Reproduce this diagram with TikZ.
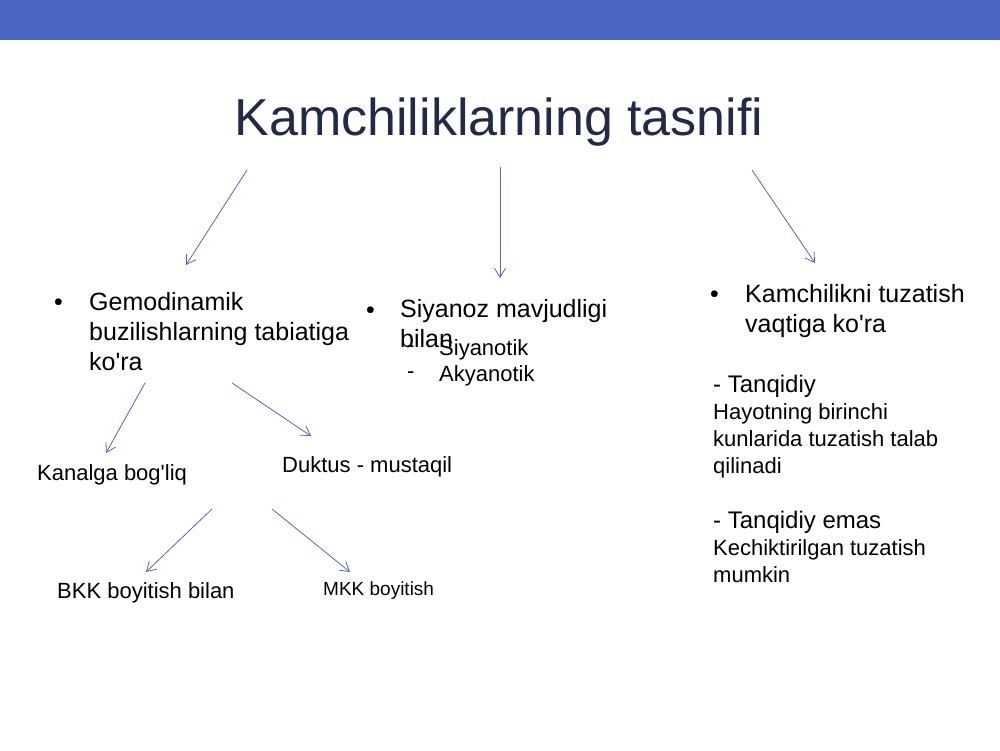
\documentclass[tikz,border=0pt]{standalone}
\usepackage{fontspec}
\setmainfont{Liberation Sans}
\usetikzlibrary{arrows.meta}
\definecolor{bandblue}{HTML}{4C67C3}
\definecolor{titlenavy}{HTML}{222A48}
\definecolor{arrowblue}{HTML}{5464B4}
\newcommand{\apo}{\textquotesingle}
\tikzset{
  big/.style={font=\fontsize{25}{30}\selectfont, inner sep=0pt, anchor=base west, align=left},
  small/.style={font=\fontsize{22}{27}\selectfont, inner sep=0pt, anchor=base west, align=left},
  link/.style={arrowblue, line width=0.8pt, -{Straight Barb[length=9pt,width=11pt]}},
}
\begin{document}
\begin{tikzpicture}[x=1pt,y=-1pt]
    % Page and top band
    \useasboundingbox (0,0) rectangle (1000,750);
    \fill[bandblue] (0,0) rectangle (1000,40);

    % Title
    \node[font=\fontsize{52}{60}\selectfont, titlenavy, inner sep=0pt, anchor=base] (title) at (499,135) {Kamchiliklarning tasnifi};

    % Left branch (multi-line nodes sit on their last line)
    \node[big] (dot1) at (54,310) {•};
    \node[big] (gemo) at (89,370) {Gemodinamik\\buzilishlarning tabiatiga\\ko\apo ra};
    \node[small] (kanal) at (37,480) {Kanalga bog\apo liq};
    \node[small] (duktus) at (282,472) {Duktus - mustaqil};
    \node[small] (bkk) at (57,598) {BKK boyitish bilan};
    \node[font=\fontsize{19}{23}\selectfont, inner sep=0pt, anchor=base west] (mkk) at (323,595) {MKK boyitish};

    % Middle branch
    \node[big] (dot2) at (366,318) {•};
    \node[small] (dash1) at (407,352) {-};
    \node[small] (dash2) at (407,378) {-};
    \node[big] (siyanoz) at (400,347) {Siyanoz mavjudligi\\bilan};
    \node[small] (siyanotik) at (439,355) {Siyanotik};
    \node[small] (akyanotik) at (439,381) {Akyanotik};

    % Right branch
    \node[big] (dot3) at (710,302) {•};
    \node[big] (vaqt) at (745,332) {Kamchilikni tuzatish\\vaqtiga ko\apo ra};
    \node[font=\fontsize{24}{27}\selectfont, inner sep=0pt, anchor=base west] (tanq) at (713,392) {- Tanqidiy};
    \node[small] (tanqtxt) at (713,473) {Hayotning birinchi\\kunlarida tuzatish talab\\qilinadi};
    \node[font=\fontsize{24}{27}\selectfont, inner sep=0pt, anchor=base west] (emas) at (713,528) {- Tanqidiy emas};
    \node[small] (emastxt) at (713,582) {Kechiktirilgan tuzatish\\mumkin};

    % Arrow ends
    \coordinate (a1) at (247,170); \coordinate (b1) at (186,265);
    \coordinate (a2) at (500,167); \coordinate (b2) at (500,278);
    \coordinate (a3) at (752,170); \coordinate (b3) at (815,263);
    \coordinate (a4) at (145,383); \coordinate (b4) at (106,453);
    \coordinate (a5) at (232,383); \coordinate (b5) at (311,436);
    \coordinate (a6) at (212,509); \coordinate (b6) at (146,572);
    \coordinate (a7) at (272,509); \coordinate (b7) at (350,572);

    % Arrows
    \draw[link] (a1) -- (b1);
    \draw[link] (a2) -- (b2);
    \draw[link] (a3) -- (b3);
    \draw[link] (a4) -- (b4);
    \draw[link] (a5) -- (b5);
    \draw[link] (a6) -- (b6);
    \draw[link] (a7) -- (b7);
\end{tikzpicture}
\end{document}
